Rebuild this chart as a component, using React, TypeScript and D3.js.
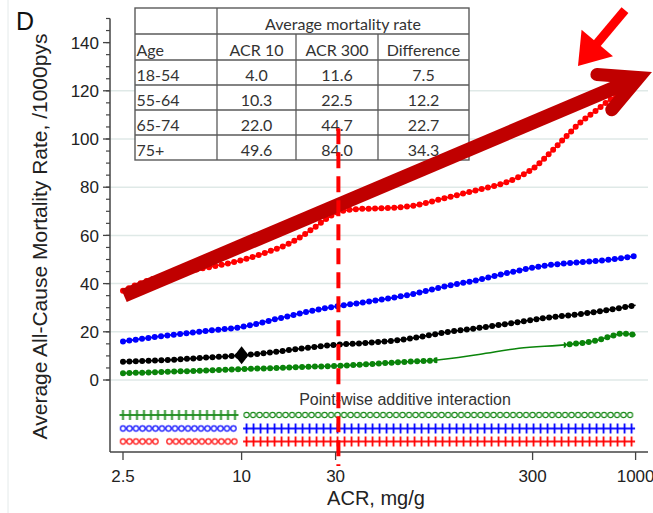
import React from 'react';
import * as d3 from 'd3';

const W = 653;
const H = 513;

// ---- axis ticks ----
const xTickValues = [2.5, 10, 30, 300, 1000];
const xTickLabels = ['2.5', '10', '30', '300', '1000'];
const yTickValues = [0, 20, 40, 60, 80, 100, 120, 140];
const gridValues = [0, 20, 40, 60, 80, 100, 120];
const yDomainMax = 150;

// ---- curves (ACR mg/g, rate /1000pys) ----
const acr75plus = [2.5, 3.4, 4.5, 6.9, 10, 13.4, 18, 23, 27, 31, 40, 50, 73, 109, 160, 227, 310, 376, 440, 514, 627, 730, 820, 1000];
const rate75plus = [37, 41.5, 44, 46.9, 49.7, 53, 57.2, 62.8, 66.9, 69.7, 71, 71.2, 72.2, 75.6, 79, 82.4, 88.5, 95, 100.7, 106.2, 111.7, 115.9, 118.6, 123];

const acr6574 = [2.5, 4.2, 6.9, 10, 15, 19.7, 28.9, 43, 63, 73, 109, 160, 235, 350, 514, 755, 1000];
const rate6574 = [16, 18.5, 20.5, 22, 25.3, 27.6, 30.3, 32.4, 34.6, 35.6, 38.9, 41.6, 44.8, 47.5, 48.8, 50, 51.5];

const acr5564 = [2.5, 4.2, 6.9, 10, 15, 19.7, 28.9, 43, 63, 73, 109, 160, 235, 350, 514, 755, 1000];
const rate5564 = [7.6, 8.3, 9.4, 10.2, 11.7, 13, 14.5, 15.4, 16.6, 17.3, 19.8, 21.6, 23.6, 25.8, 27.3, 29.3, 31];

const acr1854 = [2.5, 4.2, 6.9, 10, 15, 20, 29, 43, 63, 93, 160, 256, 458, 627, 755, 850, 1000];
const rate1854 = [2.8, 3.4, 4.0, 4.5, 5.0, 5.4, 5.8, 6.5, 7.4, 8.1, 10.6, 13.2, 14.8, 16.3, 18.2, 19.3, 18.7];

// ACR ranges where point markers are shown
const dots75plus = [[2.5, 1000]];
const dots6574 = [[2.5, 1000]];
const dots5564 = [[2.5, 1000]];
const dots1854 = [[2.5, 93], [458, 1000]];

// reference point (diamond) on 55-64 curve
const refDiamondAcr = 10;
const refDiamondRate = 10.3;

// vertical dashed reference
const refLineAcr = 31;
const refLineTopRate = 104.5;

// ---- point-wise additive interaction ----
const interLabel = 'Point-wise additive interaction';
const inter1854 = [{ from: 2.5, to: 9.6, sym: 'plus' }, { from: 10.6, to: 1000, sym: 'circle' }];
const inter6574 = [{ from: 2.5, to: 9.6, sym: 'circle' }, { from: 10.6, to: 1000, sym: 'plus' }];
const inter75plus = [{ from: 2.5, to: 3.7, sym: 'circle' }, { from: 4.3, to: 9.6, sym: 'circle' }, { from: 10.6, to: 1000, sym: 'plus' }];

// ---- table ----
const tableTitle = 'Average mortality rate';
const tableHeaders = ['Age', 'ACR 10', 'ACR 300', 'Difference'];
const ageGroups = ['18-54', '55-64', '65-74', '75+'];
const avgAcr10 = ['4.0', '10.3', '22.0', '49.6'];
const avgAcr300 = ['11.6', '22.5', '44.7', '84.0'];
const avgDiff = ['7.5', '12.2', '22.7', '34.3'];

// ---- annotation arrows (data coords) ----
const bigArrowFrom = [2.5, 35];
const bigArrowTo = [1038, 125.5];
const smallArrowFrom = [883, 153.5];
const smallArrowTo = [510, 130.3];

const FONT = "'Liberation Sans', Arial, sans-serif";
const TFONT = "Lato, 'Open Sans', sans-serif";

export default function App() {
  const xS = d3.scaleLog().domain([2.5, 1000]).range([123, 635.6]);
  const yS = d3.scaleLinear().domain([0, yDomainMax]).range([380, 18.5]);
  const axisX = 110;
  const axisY = 452;
  const plotRight = 648;

  const line = d3
    .line<[number, number]>()
    .x((d) => xS(d[0]))
    .y((d) => yS(d[1]))
    .curve(d3.curveMonotoneX);

  const series = [
    { id: 's1854', acr: acr1854, rate: rate1854, color: '#0a840a', dots: dots1854 },
    { id: 's5564', acr: acr5564, rate: rate5564, color: '#000000', dots: dots5564 },
    { id: 's6574', acr: acr6574, rate: rate6574, color: '#0000ff', dots: dots6574 },
    { id: 's75', acr: acr75plus, rate: rate75plus, color: '#ff0000', dots: dots75plus },
  ];

  const interRows = [
    { id: 'i1854', segs: inter1854, color: '#1a8a1a', y: 415 },
    { id: 'i6574', segs: inter6574, color: '#0000ff', y: 428.5 },
    { id: 'i75', segs: inter75plus, color: '#ff0000', y: 441.5 },
  ];

  const minorTicks = yS.ticks(30);

  // big arrow geometry
  const bx0 = xS(bigArrowFrom[0]) + 1;
  const by0 = yS(bigArrowFrom[1]);
  const bx1 = xS(bigArrowTo[0]);
  const by1 = yS(bigArrowTo[1]);
  const bAng = Math.atan2(by1 - by0, bx1 - bx0);
  const rev = bAng + Math.PI;
  const barbLen = 42;
  const barbOff = (27 * Math.PI) / 180;
  const b1 = [bx1 + barbLen * Math.cos(rev + barbOff), by1 + barbLen * Math.sin(rev + barbOff)];
  const b2 = [bx1 + barbLen * Math.cos(rev - barbOff), by1 + barbLen * Math.sin(rev - barbOff)];

  // small arrow geometry
  const sx0 = xS(smallArrowFrom[0]);
  const sy0 = yS(smallArrowFrom[1]);
  const sx1 = xS(smallArrowTo[0]);
  const sy1 = yS(smallArrowTo[1]);
  const sAng = Math.atan2(sy1 - sy0, sx1 - sx0);
  const ux = Math.cos(sAng);
  const uy = Math.sin(sAng);
  const headLen = 30;
  const headHalf = 20.5;
  const baseX = sx1 - headLen * ux;
  const baseY = sy1 - headLen * uy;
  const headPts = [
    [sx1, sy1],
    [baseX - headHalf * uy, baseY + headHalf * ux],
    [baseX + headHalf * uy, baseY - headHalf * ux],
  ];

  // table layout
  const tL = 135;
  const tR = 469;
  const colX = [135, 217, 296, 378, 469];
  const rowY = [8, 34, 60, 85, 110, 135, 160];
  const colCenter = (i: number) => (colX[i] + colX[i + 1]) / 2;
  const tableRows = ageGroups.map((a, i) => [a, avgAcr10[i], avgAcr300[i], avgDiff[i]]);
  const bColor = '#5a5a5a';

  const refX = xS(refLineAcr);

  return (
    <svg
      width={W}
      height={H}
      style={{ position: 'absolute', left: 0, top: 0, background: '#fff' }}
      fontFamily={FONT}
    >
      <rect x={0} y={0} width={W} height={H} fill="#fff" />
      <line x1={8} x2={8} y1={0} y2={H} stroke="#e4eaea" strokeWidth={1} />

      <defs>
        {series.map((s) => (
          <clipPath id={`clip-${s.id}`} key={s.id}>
            {s.dots.map((r, i) => (
              <rect key={i} x={xS(r[0]) - 5} y={0} width={xS(r[1]) - xS(r[0]) + 10} height={H} />
            ))}
          </clipPath>
        ))}
        {interRows.map((row) =>
          row.segs.map((sg, i) => {
            const sp = sg.sym === 'plus' ? 7 : 6.5;
            const x0 = xS(sg.from) - sp / 2;
            return (
              <pattern
                key={`${row.id}-${i}`}
                id={`pat-${row.id}-${i}`}
                patternUnits="userSpaceOnUse"
                x={x0}
                y={row.y - 6}
                width={sp}
                height={12}
              >
                {sg.sym === 'plus' ? (
                  <g stroke={row.color} strokeWidth={1.8}>
                    <line x1={0} x2={sp} y1={6} y2={6} />
                    <line x1={sp / 2} x2={sp / 2} y1={1} y2={11} />
                  </g>
                ) : (
                  <circle cx={sp / 2} cy={6} r={2.6} fill="none" stroke={row.color} strokeWidth={1.1} />
                )}
              </pattern>
            );
          })
        )}
      </defs>

      {/* gridlines */}
      {gridValues.map((v) => (
        <line key={v} x1={axisX} x2={plotRight} y1={yS(v)} y2={yS(v)} stroke="#dfe9e7" strokeWidth={1.5} />
      ))}

      {/* y axis */}
      <line x1={axisX} x2={axisX} y1={yS(yDomainMax)} y2={axisY} stroke="#444" strokeWidth={1.5} />
      {minorTicks.map((v) => (
        <line key={`m${v}`} x1={axisX - 4} x2={axisX} y1={yS(v)} y2={yS(v)} stroke="#444" strokeWidth={1.2} />
      ))}
      {yTickValues.map((v) => (
        <g key={`y${v}`}>
          <line x1={axisX - 7} x2={axisX} y1={yS(v)} y2={yS(v)} stroke="#444" strokeWidth={1.3} />
          <text x={axisX - 11} y={yS(v)} dy="0.36em" textAnchor="end" fontSize={17} fill="#222">
            {v}
          </text>
        </g>
      ))}

      {/* x axis */}
      <line x1={axisX} x2={plotRight} y1={axisY} y2={axisY} stroke="#444" strokeWidth={1.5} />
      {xTickValues.map((v, i) => (
        <g key={`x${v}`}>
          <line x1={xS(v)} x2={xS(v)} y1={axisY} y2={axisY + 8} stroke="#444" strokeWidth={1.3} />
          <text x={xS(v)} y={482} textAnchor="middle" fontSize={17} fill="#222">
            {xTickLabels[i]}
          </text>
        </g>
      ))}
      <text x={376} y={505} textAnchor="middle" fontSize={20} fill="#222">
        ACR, mg/g
      </text>
      <text transform="translate(46.5,236.5) rotate(-90)" textAnchor="middle" fontSize={21} fill="#222">
        Average All-Cause Mortality Rate, /1000pys
      </text>
      <text x={16} y={30} fontSize={25} fill="#111">
        D
      </text>

      {/* table */}
      <g fontFamily={TFONT} fontSize={16} fill="#333">
        <rect x={tL} y={rowY[0]} width={tR - tL} height={rowY[6] - rowY[0]} fill="#fff" stroke={bColor} strokeWidth={1.4} />
        {rowY.slice(1, 6).map((y, i) => (
          <line key={`r${i}`} x1={tL} x2={tR} y1={y} y2={y} stroke={bColor} strokeWidth={1.3} />
        ))}
        <line x1={colX[1]} x2={colX[1]} y1={rowY[0]} y2={rowY[6]} stroke={bColor} strokeWidth={1.3} />
        <line x1={colX[2]} x2={colX[2]} y1={rowY[1]} y2={rowY[6]} stroke={bColor} strokeWidth={1.3} />
        <line x1={colX[3]} x2={colX[3]} y1={rowY[1]} y2={rowY[6]} stroke={bColor} strokeWidth={1.3} />
        <text x={(colX[1] + colX[4]) / 2} y={rowY[1] - 4.5} textAnchor="middle">
          {tableTitle}
        </text>
        {tableHeaders.map((h, i) => (
          <text key={h} x={i === 0 ? tL + 1.5 : colCenter(i)} y={rowY[2] - 4.5} textAnchor={i === 0 ? 'start' : 'middle'}>
            {h}
          </text>
        ))}
        {tableRows.map((r, ri) =>
          r.map((c, ci) => (
            <text
              key={`${ri}-${ci}`}
              x={ci === 0 ? tL + 1.5 : colCenter(ci)}
              y={rowY[ri + 3] - 4.5}
              textAnchor={ci === 0 ? 'start' : 'middle'}
            >
              {c}
            </text>
          ))
        )}
      </g>

      {/* curves */}
      {series.map((s) => {
        const pts = s.acr.map((a, i) => [a, s.rate[i]] as [number, number]);
        const d = line(pts) || '';
        return (
          <g key={s.id}>
            <path d={d} fill="none" stroke={s.color} strokeWidth={1.6} />
            <path
              d={d}
              fill="none"
              stroke={s.color}
              strokeWidth={6}
              strokeDasharray="0 6.4"
              strokeLinecap="round"
              clipPath={`url(#clip-${s.id})`}
            />
          </g>
        );
      })}
      {(() => {
        const cx = xS(refDiamondAcr);
        const cy = yS(refDiamondRate);
        return <path d={`M${cx},${cy - 9}L${cx + 7},${cy}L${cx},${cy + 9}L${cx - 7},${cy}Z`} fill="#000" />;
      })()}

      {/* interaction rows */}
      <text x={405} y={405} textAnchor="middle" fontSize={16} fill="#333">
        {interLabel}
      </text>
      {interRows.map((row) =>
        row.segs.map((sg, i) => {
          const sp = sg.sym === 'plus' ? 7 : 6.5;
          const x0 = xS(sg.from) - sp / 2;
          const x1 = xS(sg.to) + sp / 2;
          const n = Math.floor((x1 - x0) / sp);
          return (
            <rect
              key={`${row.id}-${i}`}
              x={x0}
              y={row.y - 6}
              width={n * sp}
              height={12}
              fill={`url(#pat-${row.id}-${i})`}
            />
          );
        })
      )}

      {/* big arrow */}
      <g stroke="#c00000" fill="none">
        <line x1={bx0} y1={by0} x2={bx1} y2={by1} strokeWidth={14} strokeLinecap="butt" />
        <path
          d={`M${b1[0]},${b1[1]}L${bx1},${by1}L${b2[0]},${b2[1]}`}
          strokeWidth={13}
          strokeLinecap="round"
          strokeLinejoin="miter"
        />
      </g>

      {/* dashed reference line */}
      <line
        x1={refX}
        x2={refX}
        y1={yS(refLineTopRate)}
        y2={466}
        stroke="#ff0000"
        strokeWidth={4}
        strokeDasharray="16 8"
      />

      {/* small arrow */}
      <line x1={sx0} y1={sy0} x2={baseX + ux} y2={baseY + uy} stroke="#ff0000" strokeWidth={9} />
      <polygon points={headPts.map((p) => p.join(',')).join(' ')} fill="#ff0000" />
    </svg>
  );
}
